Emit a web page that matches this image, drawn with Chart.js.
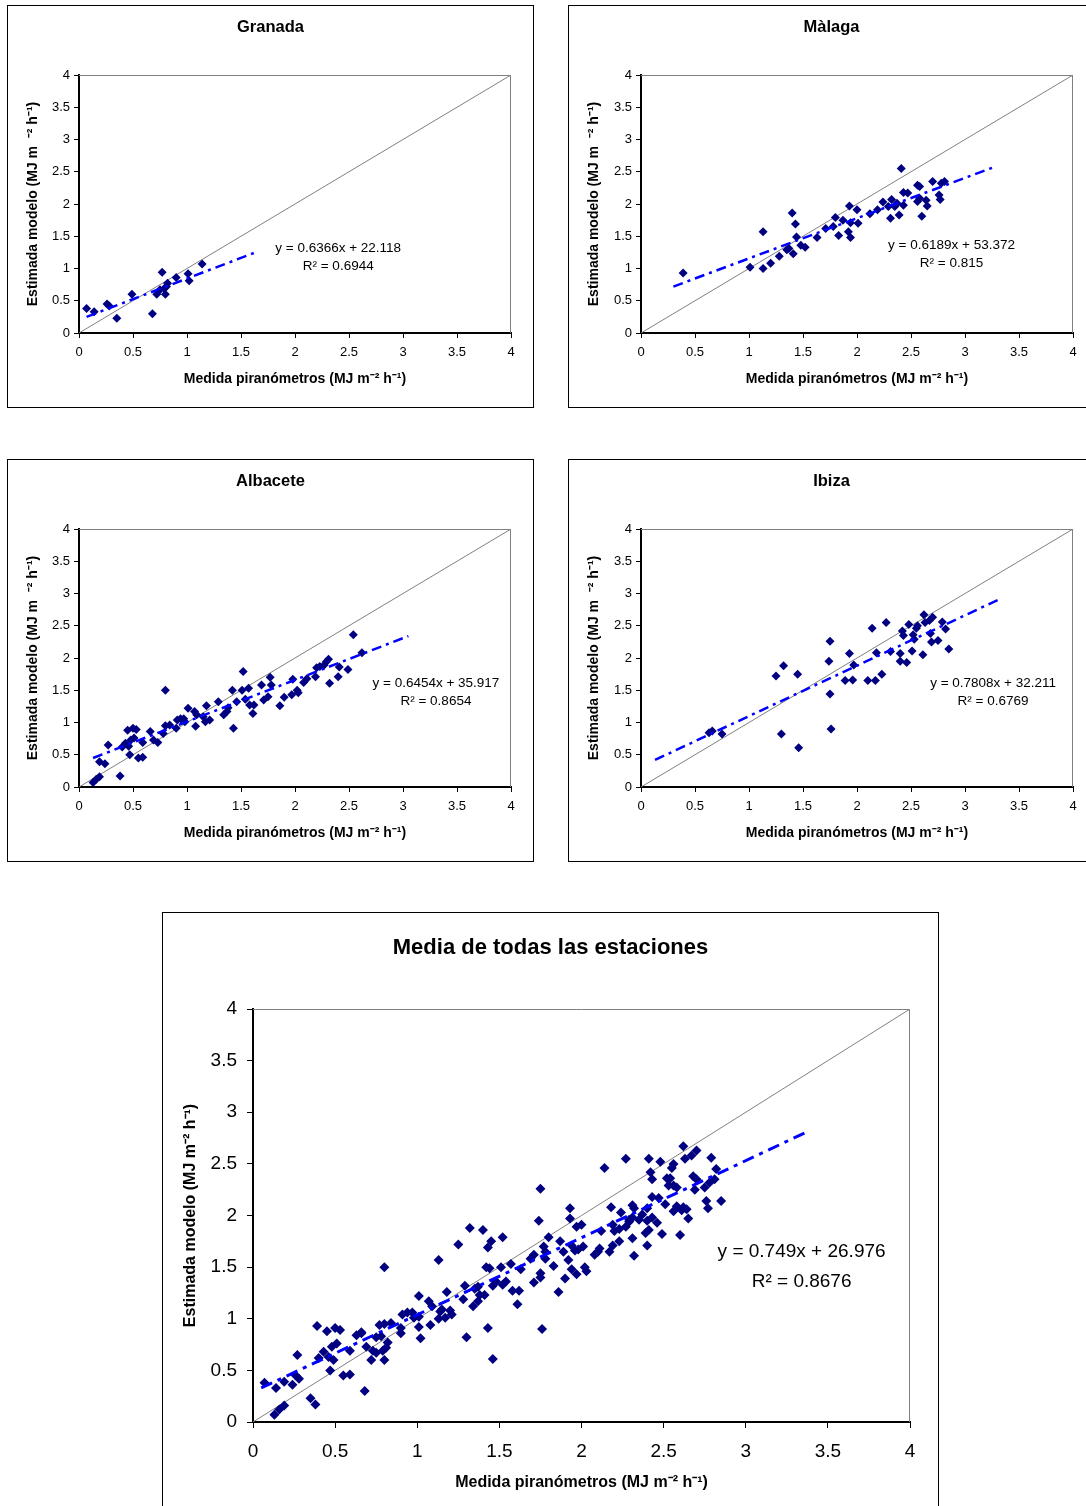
<!DOCTYPE html>
<html lang="es">
<head>
<meta charset="UTF-8">
<title>Estimada modelo vs medida piranómetros</title>
<script src="https://cdn.jsdelivr.net/npm/chart.js@4"></script>
<style>
  html, body { margin: 0; padding: 0; background: #fff; overflow: hidden; }
  body { width: 1086px; height: 1506px; position: relative; }
  .panel { position: absolute; border: 1px solid #000; background: #fff; }
  .panel canvas { display: block; }
</style>
</head>
<body>
<div class="panel" style="left:7px;top:5px;width:525px;height:401px"><canvas id="granada" width="525" height="401"></canvas></div>
<div class="panel" style="left:568px;top:5px;width:525px;height:401px"><canvas id="malaga" width="525" height="401"></canvas></div>
<div class="panel" style="left:7px;top:459px;width:525px;height:401px"><canvas id="albacete" width="525" height="401"></canvas></div>
<div class="panel" style="left:568px;top:459px;width:525px;height:401px"><canvas id="ibiza" width="525" height="401"></canvas></div>
<div class="panel" style="left:162px;top:912px;width:775px;height:610px"><canvas id="media" width="775" height="600"></canvas></div>

<script>
// ---- datos (medida piranómetros / estimada modelo) ----
const granadaMedida   = [0.07, 0.14, 0.26, 0.28, 0.35, 0.49, 0.68, 0.72, 0.75, 0.77, 0.79, 0.80, 0.81, 0.82, 0.90, 1.01, 1.02, 1.14];
const granadaEstimada = [0.38, 0.33, 0.45, 0.42, 0.23, 0.60, 0.30, 0.60, 0.67, 0.94, 0.69, 0.60, 0.72, 0.77, 0.86, 0.92, 0.81, 1.07];

const malagaMedida   = [0.39, 1.13, 1.01, 1.13, 1.20, 1.28, 1.35, 1.37, 1.40, 1.41, 1.43, 1.44, 1.48, 1.52, 1.63, 1.71, 1.78,
                        1.80, 1.83, 1.87, 1.92, 1.94, 1.93, 1.94, 2.00, 2.01, 2.12, 2.19, 2.24, 2.29, 2.31, 2.32, 2.35, 2.37,
                        2.39, 2.41, 2.43, 2.43, 2.47, 2.56, 2.58, 2.56, 2.58, 2.60, 2.64, 2.65, 2.70, 2.76, 2.77, 2.78, 2.81];
const malagaEstimada = [0.93, 1.57, 1.02, 1.00, 1.08, 1.19, 1.29, 1.31, 1.86, 1.23, 1.69, 1.49, 1.36, 1.33, 1.48, 1.62, 1.65,
                        1.79, 1.51, 1.75, 1.57, 1.48, 1.97, 1.71, 1.91, 1.70, 1.85, 1.91, 2.03, 1.96, 1.78, 2.07, 1.96, 2.01,
                        1.83, 2.55, 2.18, 1.98, 2.17, 2.29, 2.27, 2.04, 2.09, 1.81, 2.06, 1.97, 2.35, 2.14, 2.07, 2.32, 2.35];

const albaceteMedida   = [0.13, 0.16, 0.19, 0.19, 0.24, 0.27, 0.38, 0.40, 0.43, 0.45, 0.46, 0.47, 0.48, 0.50, 0.51, 0.53,
                          0.55, 0.59, 0.59, 0.66, 0.69, 0.73, 0.78, 0.80, 0.80, 0.84, 0.90, 0.91, 0.94, 0.97, 0.98, 1.01,
                          1.07, 1.08, 1.09, 1.15, 1.17, 1.18, 1.21, 1.29, 1.34, 1.37, 1.38, 1.42, 1.43, 1.46, 1.51, 1.52,
                          1.54, 1.57, 1.58, 1.61, 1.62, 1.69, 1.71, 1.75, 1.77, 1.78, 1.86, 1.90, 1.97, 1.98, 2.02, 2.03,
                          2.08, 2.11, 2.19, 2.20, 2.23, 2.27, 2.29, 2.31, 2.32, 2.40, 2.41, 2.49, 2.54, 2.62];
const albaceteEstimada = [0.07, 0.12, 0.16, 0.39, 0.36, 0.65, 0.17, 0.62, 0.68, 0.88, 0.63, 0.50, 0.73, 0.91, 0.76, 0.89,
                          0.45, 0.46, 0.69, 0.86, 0.73, 0.69, 0.83, 1.50, 0.95, 0.96, 0.91, 1.04, 1.06, 1.06, 1.01, 1.22,
                          1.17, 0.94, 1.12, 1.09, 1.01, 1.26, 1.04, 1.32, 1.12, 1.17, 1.23, 1.50, 0.91, 1.32, 1.50, 1.79,
                          1.36, 1.53, 1.27, 1.14, 1.27, 1.58, 1.35, 1.40, 1.70, 1.58, 1.26, 1.39, 1.43, 1.67, 1.50, 1.46,
                          1.62, 1.68, 1.71, 1.85, 1.87, 1.89, 1.94, 1.98, 1.61, 1.71, 1.86, 1.82, 2.36, 2.08];

const ibizaMedida   = [0.63, 0.66, 0.75, 1.25, 1.30, 1.32, 1.45, 1.46, 1.74, 1.75, 1.75, 1.76, 1.89, 1.93, 1.96, 1.97,
                       2.10, 2.14, 2.17, 2.18, 2.23, 2.27, 2.31, 2.40, 2.40, 2.42, 2.43, 2.46, 2.48, 2.51, 2.52, 2.53,
                       2.55, 2.56, 2.61, 2.62, 2.63, 2.67, 2.68, 2.69, 2.70, 2.75, 2.79, 2.82, 2.85];
const ibizaEstimada = [0.84, 0.87, 0.82, 1.72, 0.82, 1.88, 1.75, 0.61, 1.95, 2.26, 1.44, 0.90, 1.65, 2.07, 1.66, 1.89,
                       1.65, 2.46, 1.65, 2.08, 1.75, 2.55, 2.10, 1.95, 2.07, 2.42, 2.35, 1.93, 2.52, 2.11, 2.36, 2.29,
                       2.46, 2.50, 2.05, 2.67, 2.55, 2.58, 2.38, 2.25, 2.63, 2.27, 2.56, 2.45, 2.14];

// extremos de la línea de tendencia (x, y)
const granadaTendencia  = [[0.07, 0.25], [1.65, 1.26]];
const malagaTendencia   = [[0.30, 0.72], [3.25, 2.56]];
const albaceteTendencia = [[0.13, 0.45], [3.05, 2.34]];
const ibizaTendencia    = [[0.13, 0.42], [3.33, 2.92]];
const mediaTendencia    = [[0.05, 0.33], [3.36, 2.80]];

const ecuaciones = {
  granada:  ['y = 0.6366x + 22.118', 'R² = 0.6944'],
  malaga:   ['y = 0.6189x + 53.372', 'R² = 0.815'],
  albacete: ['y = 0.6454x + 35.917', 'R² = 0.8654'],
  ibiza:    ['y = 0.7808x + 32.211', 'R² = 0.6769'],
  media:    ['y = 0.749x + 26.976', 'R² = 0.8676']
};

const diagonal = [[0, 0], [4, 4]];
const tickValues = [0, 0.5, 1, 1.5, 2, 2.5, 3, 3.5, 4];

// ---------------------------------------------------------------
const ARIAL = "'Liberation Sans', Arial, sans-serif";

function toPoints(xs, ys) {
  return xs.map((x, i) => ({ x: x, y: ys[i] }));
}
function pairs(arr) {
  return arr.map(p => ({ x: p[0], y: p[1] }));
}

// título, marco gris del área de trazado y texto de la ecuación
const extras = {
  id: 'extras',
  beforeDatasetsDraw(chart, args, opts) {
    const { ctx, chartArea: a } = chart;
    ctx.save();
    ctx.strokeStyle = '#808080';
    ctx.lineWidth = 1;
    ctx.beginPath();
    ctx.moveTo(a.left, a.top + 0.5);
    ctx.lineTo(a.right - 0.5, a.top + 0.5);
    ctx.lineTo(a.right - 0.5, a.bottom);
    ctx.stroke();

    ctx.font = opts.titleFont;
    ctx.fillStyle = '#000';
    ctx.textAlign = 'center';
    ctx.textBaseline = 'middle';
    ctx.fillText(opts.title, chart.width / 2, opts.titleY);
    ctx.restore();
  },
  afterDatasetsDraw(chart, args, opts) {
    const { ctx, scales } = chart;
    const px = scales.x.getPixelForValue(opts.at[0]);
    const py = scales.y.getPixelForValue(opts.at[1]);
    ctx.save();
    ctx.font = opts.font;
    ctx.fillStyle = '#000';
    ctx.textAlign = 'center';
    ctx.textBaseline = 'middle';
    ctx.fillText(opts.lines[0], px, py);
    ctx.fillText(opts.lines[1], px, py + opts.gap);
    ctx.restore();
  }
};

function makeChart(id, o) {
  const ctx = document.getElementById(id).getContext('2d');
  const tickFmt = v => String(v);
  return new Chart(ctx, {
    type: 'scatter',
    data: {
      datasets: [
        {
          type: 'line',
          data: pairs(o.trend),
          borderColor: '#0000ff',
          borderWidth: o.trendW,
          borderDash: o.dash,
          pointRadius: 0,
          fill: false
        },
        {
          data: o.points,
          pointStyle: 'rectRot',
          pointRadius: o.radius,
          backgroundColor: '#000080',
          borderColor: '#000080',
          borderWidth: 0
        },
        {
          type: 'line',
          data: pairs(diagonal),
          borderColor: '#808080',
          borderWidth: 1,
          pointRadius: 0,
          fill: false
        }
      ]
    },
    options: {
      responsive: false,
      animation: false,
      events: [],
      layout: { padding: { left: 0, right: o.rightPad, top: o.topPad, bottom: 0 } },
      plugins: {
        legend: { display: false },
        tooltip: { enabled: false },
        title: { display: false },
        extras: {
          title: o.title, titleY: o.titleY, titleFont: 'bold ' + o.titleSize + 'px ' + ARIAL,
          lines: o.eq, at: o.eqAt, font: o.eqSize + 'px ' + ARIAL, gap: o.eqGap
        }
      },
      scales: {
        x: {
          type: 'linear', min: 0, max: 4,
          afterBuildTicks: s => { s.ticks = tickValues.map(v => ({ value: v })); },
          ticks: { color: '#000', font: { family: ARIAL, size: o.tickSize }, padding: o.xTickPad, maxRotation: 0, autoSkip: false, callback: tickFmt },
          grid: { drawOnChartArea: false, drawTicks: true, tickLength: o.tickLen, color: '#000', lineWidth: 1 },
          border: { display: true, color: '#000', width: o.axisW },
          title: {
            display: true,
            text: 'Medida piranómetros (MJ m⁻² h⁻¹)',
            color: '#000',
            font: { family: ARIAL, size: o.axisTitleSize, weight: 'bold', lineHeight: 1.2 },
            padding: { top: 0, bottom: o.xTitlePad }
          },
          afterFit: s => { s.height = o.xH; }
        },
        y: {
          type: 'linear', min: 0, max: 4,
          afterBuildTicks: s => { s.ticks = tickValues.map(v => ({ value: v })); },
          ticks: { color: '#000', font: { family: ARIAL, size: o.tickSize }, padding: o.yTickPad, callback: tickFmt },
          grid: { drawOnChartArea: false, drawTicks: true, tickLength: o.tickLen, color: '#000', lineWidth: 1 },
          border: { display: true, color: '#000', width: o.axisW },
          title: {
            display: true,
            text: o.yTitle,
            color: '#000',
            font: { family: ARIAL, size: o.axisTitleSize, weight: 'bold', lineHeight: 1.2 },
            padding: { top: o.yTitlePad, bottom: 0 }
          },
          afterFit: s => { s.width = o.yW; }
        }
      }
    },
    plugins: [extras]
  });
}

function smallChart(id, title, xs, ys, trend, eq, eqAt, yW, rightPad) {
  makeChart(id, {
    title: title, points: toPoints(xs, ys), trend: trend, eq: eq, eqAt: eqAt,
    titleSize: 16.5, titleY: 21, topPad: 69,
    tickSize: 13, tickLen: 5, xTickPad: 7, yTickPad: 4, axisW: 2,
    axisTitleSize: 14, xTitlePad: 19, yTitlePad: 17,
    yTitle: 'Estimada modelo (MJ m  ⁻² h⁻¹)',
    xH: 74, yW: yW, rightPad: rightPad,
    radius: 4.5, trendW: 2.5, dash: [10, 5, 3, 5],
    eqSize: 13.5, eqGap: 18
  });
}

smallChart('granada', 'Granada', granadaMedida, granadaEstimada, granadaTendencia, ecuaciones.granada, [2.40, 1.32], 71, 22);
smallChart('malaga', 'Màlaga', malagaMedida, malagaEstimada, malagaTendencia, ecuaciones.malaga, [2.875, 1.364], 72, 21);
smallChart('albacete', 'Albacete', albaceteMedida, albaceteEstimada, albaceteTendencia, ecuaciones.albacete, [3.305, 1.61], 71, 22);
smallChart('ibiza', 'Ibiza', ibizaMedida, ibizaEstimada, ibizaTendencia, ecuaciones.ibiza, [3.26, 1.61], 72, 21);

// todas las estaciones juntas
const mediaMedida = granadaMedida.concat(malagaMedida, albaceteMedida, ibizaMedida);
const mediaEstimada = granadaEstimada.concat(malagaEstimada, albaceteEstimada, ibizaEstimada);

makeChart('media', {
  title: 'Media de todas las estaciones', points: toPoints(mediaMedida, mediaEstimada),
  trend: mediaTendencia, eq: ecuaciones.media, eqAt: [3.34, 1.646],
  titleSize: 22, titleY: 35, topPad: 96,
  tickSize: 19, tickLen: 6, xTickPad: 12, yTickPad: 10, axisW: 2,
  axisTitleSize: 16, xTitlePad: 21, yTitlePad: 18,
  yTitle: 'Estimada modelo (MJ m⁻² h⁻¹)',
  xH: 91, yW: 90, rightPad: 28,
  radius: 5, trendW: 3, dash: [12, 6, 4, 6],
  eqSize: 19, eqGap: 30
});
</script>
</body>
</html>
